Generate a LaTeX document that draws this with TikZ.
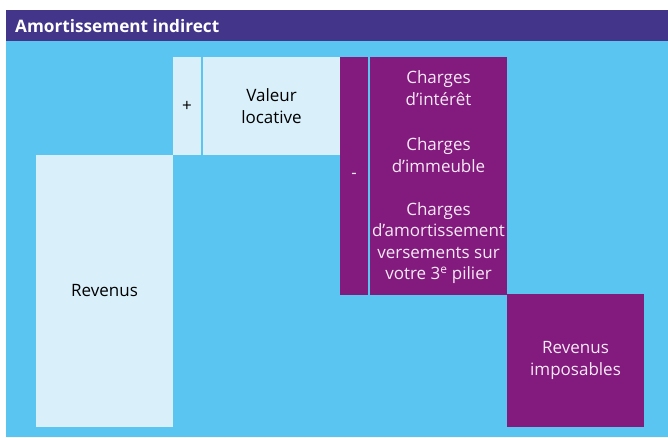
\documentclass[tikz,border=0pt]{standalone}
\usepackage{fontspec}
\setmainfont{Open Sans}
\definecolor{hdr}{HTML}{433589}
\definecolor{sky}{HTML}{5BC5F2}
\definecolor{pale}{HTML}{D9F0FB}
\definecolor{plum}{HTML}{831A7E}
\definecolor{ptext}{HTML}{F7EAF5}
\begin{document}
\begin{tikzpicture}[x=1pt,y=-1pt,
  palebox/.style={fill=pale,inner sep=0pt,outer sep=0pt},
  plumbox/.style={fill=plum,inner sep=0pt,outer sep=0pt},
  dtxt/.style={text=black,align=center,inner sep=0pt,font=\fontsize{17}{21.5}\selectfont},
  wtxt/.style={text=ptext,align=center,inner sep=0pt,font=\fontsize{17}{21.5}\selectfont}]
\useasboundingbox (0,0) rectangle (668,437);
\fill[white] (0,0) rectangle (668,437);
\fill[sky] (6,41) rectangle (668,437);
\node[fill=hdr,inner sep=0pt,minimum width=662pt,minimum height=31pt,anchor=north west] (header) at (6,10) {};
\node[text=white,font=\bfseries\fontsize{17.2}{20}\selectfont,anchor=west,inner sep=0pt] (title) at (15,26) {Amortissement indirect};
\node[palebox,minimum width=137pt,minimum height=272pt] (rev) at (104.5,291) {};
\node[dtxt] (revt) at (rev.center) {Revenus};
\node[palebox,minimum width=28pt,minimum height=98pt] (plus) at (187,106) {};
\node[dtxt] (plust) at (plus.center) {+};
\node[palebox,minimum width=137pt,minimum height=98pt] (val) at (271.5,106) {};
\node[dtxt] (valt) at (val.center) {Valeur\\locative};
\node[plumbox,minimum width=28pt,minimum height=238pt] (minus) at (354,176) {};
\node[wtxt] (minust) at (minus.center) {-};
\node[plumbox,minimum width=137pt,minimum height=238pt] (chg) at (438.5,176) {};
\node[wtxt] (c1) at (438.5,88) {Charges\\d’intérêt};
\node[wtxt] (c2) at (438.5,155) {Charges\\d’immeuble};
\node[wtxt] (c3) at (438.5,243) {Charges\\d’amortissement\\versements sur\\votre 3\textsuperscript{e} pilier};
\node[plumbox,minimum width=137pt,minimum height=133pt] (imp) at (575.5,360.5) {};
\node[wtxt] (impt) at (imp.center) {Revenus\\imposables};
\end{tikzpicture}
\end{document}
